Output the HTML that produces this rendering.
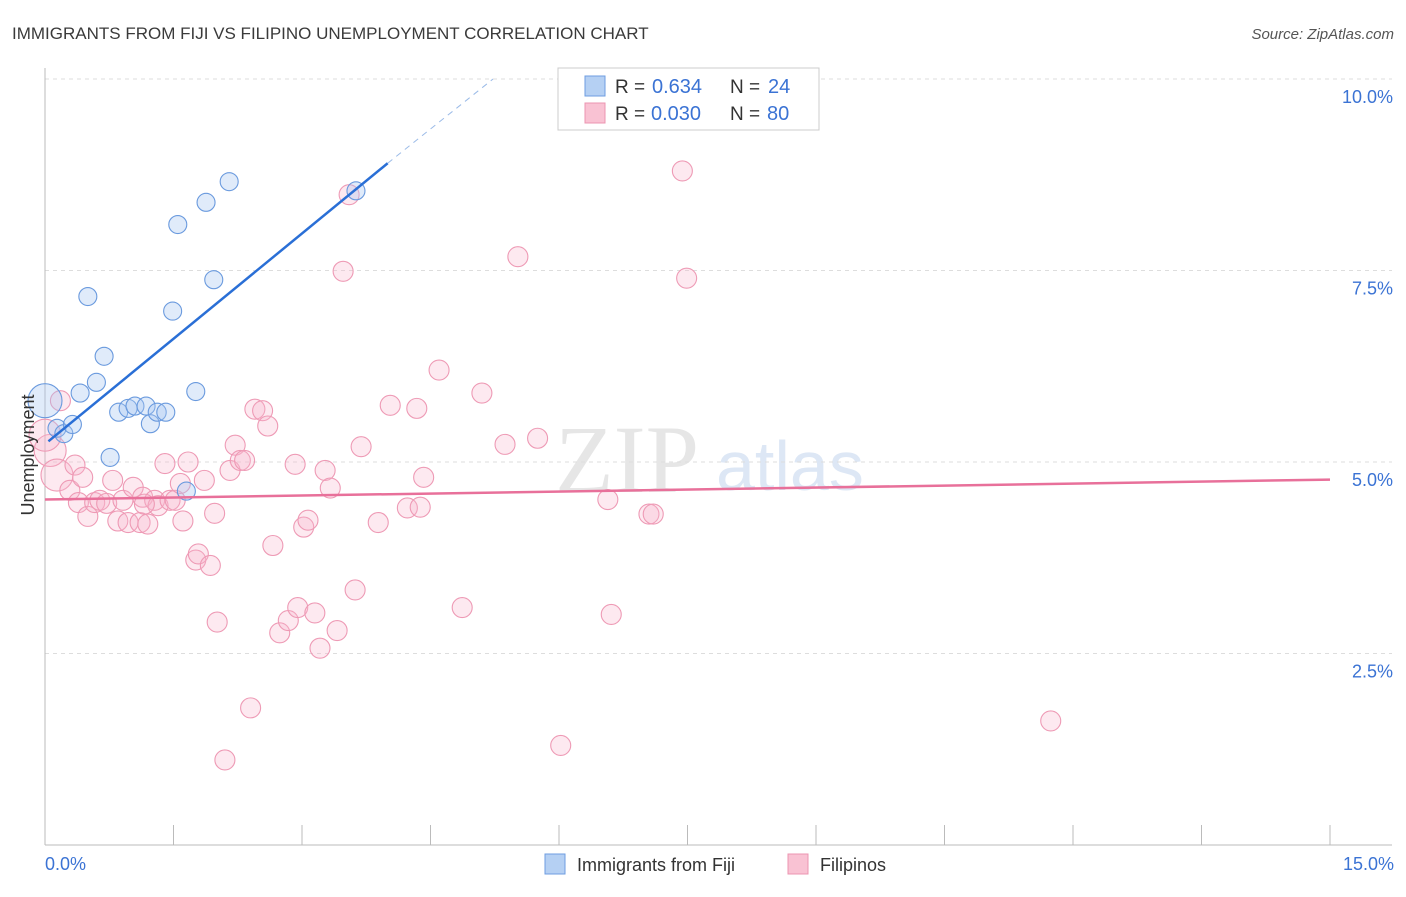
<!DOCTYPE html>
<html><head><meta charset="utf-8"><style>
body{margin:0;background:#fff;font-family:"Liberation Sans",sans-serif}
</style></head><body>
<svg width="1406" height="892" id="svg" xmlns="http://www.w3.org/2000/svg">
<text x="12" y="39" font-size="17" fill="#3a3a3a">IMMIGRANTS FROM FIJI VS FILIPINO UNEMPLOYMENT CORRELATION CHART</text>
<text x="1394" y="39" font-size="15" fill="#555" font-style="italic" text-anchor="end">Source: ZipAtlas.com</text>
<text x="555" y="492" font-size="96" fill="#e6e6e6" font-family="Liberation Serif,serif">ZIP</text>
<text x="716" y="490" font-size="70" fill="#dde7f5">atlas</text>
<g id="grid"></g><g id="marks"></g>
<text x="34" y="455" font-size="18" fill="#333" transform="rotate(-90 34 455)" text-anchor="middle">Unemployment</text>
<text x="45" y="870" font-size="18" fill="#3b73d4">0.0%</text>
<text x="1394" y="870" font-size="18" fill="#3b73d4" text-anchor="end">15.0%</text>
<g>
<rect x="558" y="68" width="261" height="62" fill="#fff" stroke="#ccc"/>
<rect x="585" y="76" width="20" height="20" fill="#b5d0f3" stroke="#6e9de0"/>
<rect x="585" y="103" width="20" height="20" fill="#f9c2d3" stroke="#ec94b0"/>
<text x="615" y="93" font-size="19" fill="#333">R =</text>
<text x="652" y="93" font-size="20" fill="#3b73d4">0.634</text>
<text x="730" y="93" font-size="19" fill="#333">N =</text>
<text x="768" y="93" font-size="20" fill="#3b73d4">24</text>
<text x="615" y="120" font-size="19" fill="#333">R =</text>
<text x="651" y="120" font-size="20" fill="#3b73d4">0.030</text>
<text x="730" y="120" font-size="19" fill="#333">N =</text>
<text x="767" y="120" font-size="20" fill="#3b73d4">80</text>
</g>
<g>
<rect x="545" y="854" width="20" height="20" fill="#b5d0f3" stroke="#6e9de0"/>
<text x="577" y="871" font-size="18" fill="#333">Immigrants from Fiji</text>
<rect x="788" y="854" width="20" height="20" fill="#f9c2d3" stroke="#ec94b0"/>
<text x="820" y="871" font-size="18" fill="#333">Filipinos</text>
</g>
</svg>
<script>
const yTicks=[2.5,5.0,7.5,10.0];
const yTickLabels=["2.5%","5.0%","7.5%","10.0%"];
const xTicks=[0,1.5,3,4.5,6,7.5,9,10.5,12,13.5,15];
const fijiX=[0,0.14,0.22,0.32,0.41,0.60,0.69,0.50,0.76,0.86,0.97,1.05,1.18,1.23,1.31,1.41,1.49,1.55,1.76,1.88,1.97,2.15,1.65,3.63];
const fijiY=[5.80,5.44,5.37,5.49,5.90,6.04,6.38,7.16,5.06,5.65,5.70,5.73,5.73,5.50,5.65,5.65,6.97,8.10,5.92,8.39,7.38,8.66,4.62,8.54];
const filX=[0.06,0.18,0.14,0.29,0.35,0.44,0.39,0.50,0.58,0.64,0.72,0.79,0.85,0.91,0.97,1.03,1.11,1.14,1.20,1.28,1.32,1.40,1.46,1.52,1.58,1.61,1.67,1.76,1.79,1.86,1.93,1.98,2.01,2.10,2.16,2.22,2.28,2.33,2.40,2.45,2.54,2.60,2.66,2.74,2.84,2.92,2.95,3.02,3.07,3.15,3.21,3.27,3.33,3.41,3.48,3.55,3.62,3.69,3.89,4.03,4.23,4.34,4.38,4.42,4.60,4.87,5.10,5.37,5.52,5.75,6.02,6.57,6.61,7.05,7.10,7.44,7.49,11.74,0.0,1.16];
const filY=[5.15,5.80,4.83,4.63,4.96,4.80,4.47,4.29,4.47,4.50,4.46,4.76,4.23,4.50,4.21,4.67,4.21,4.54,4.19,4.50,4.43,4.98,4.50,4.50,4.72,4.23,5.00,3.72,3.80,4.76,3.65,4.33,2.91,1.11,4.89,5.22,5.02,5.02,1.79,5.69,5.67,5.47,3.91,2.77,2.93,4.97,3.10,4.15,4.24,3.03,2.57,4.89,4.66,2.80,7.49,8.49,3.33,5.20,4.21,5.74,4.40,5.70,4.41,4.80,6.20,3.10,5.90,5.23,7.68,5.31,1.30,4.51,3.01,4.32,4.32,8.80,7.40,1.62,5.35,4.45];
const fijiTrend=[[0.04,5.27],[4.0,8.90]];
const fijiTrendExt=[[4.0,8.90],[5.23,10.0]];
const filTrend=[[0,4.51],[15,4.77]];

const X=v=>45+v*(1330-45)/15;
const Y=v=>845-v*(845-79)/10;
const NS="http://www.w3.org/2000/svg";
function mk(t,a,p){const e=document.createElementNS(NS,t);for(const k in a)e.setAttribute(k,a[k]);p.appendChild(e);return e;}
const g=document.getElementById('grid'),m=document.getElementById('marks');
yTicks.forEach((t,i)=>{
 const l=mk('line',{x1:45,x2:1392,y1:Y(t),y2:Y(t),stroke:'#ddd','stroke-dasharray':'4,4'},g);
 
 
 const tx=mk('text',{x:1393,y:Y(t)+24,'font-size':18,fill:'#3b73d4','text-anchor':'end'},g);
 tx.textContent=yTickLabels[i];
 
 
});
const ax=mk('line',{x1:45,x2:45,y1:68,y2:845,stroke:'#bbb'},g);


const bx=mk('line',{x1:45,x2:1392,y1:845,y2:845,stroke:'#bbb'},g);


xTicks.forEach(t=>{
 const l=mk('line',{x1:X(t),x2:X(t),y1:825,y2:845,stroke:'#bbb'},g);
 
 
});
filX.forEach((v,i)=>{
 const big=(i===0||i===2||i===78);
 const c=mk('circle',{cx:X(v),cy:Y(filY[i]),r:big?16:10,fill:'rgba(248,182,204,0.3)',stroke:'#ee9ab5','stroke-width':1.1},m);
 
 
});
fijiX.forEach((v,i)=>{
 const c=mk('circle',{cx:X(v),cy:Y(fijiY[i]),r:i===0?17:9,fill:'rgba(165,198,240,0.35)',stroke:'#6a9ade','stroke-width':1.1},m);
 
 
});
function line(p,st,d,name){
 const l=mk('line',{x1:X(p[0][0]),y1:Y(p[0][1]),x2:X(p[1][0]),y2:Y(p[1][1]),stroke:st,'stroke-width':d?1:2.5},m);
 if(d)l.setAttribute('stroke-dasharray','6,5');
 
 
}
line(filTrend,'#e8709a',false,'filipinos-trend-line');
line(fijiTrend,'#2a6fd6',false,'fiji-trend-line');
line(fijiTrendExt,'#9bbbe8',true,'fiji-trend-extension');
</script>
</body></html>
